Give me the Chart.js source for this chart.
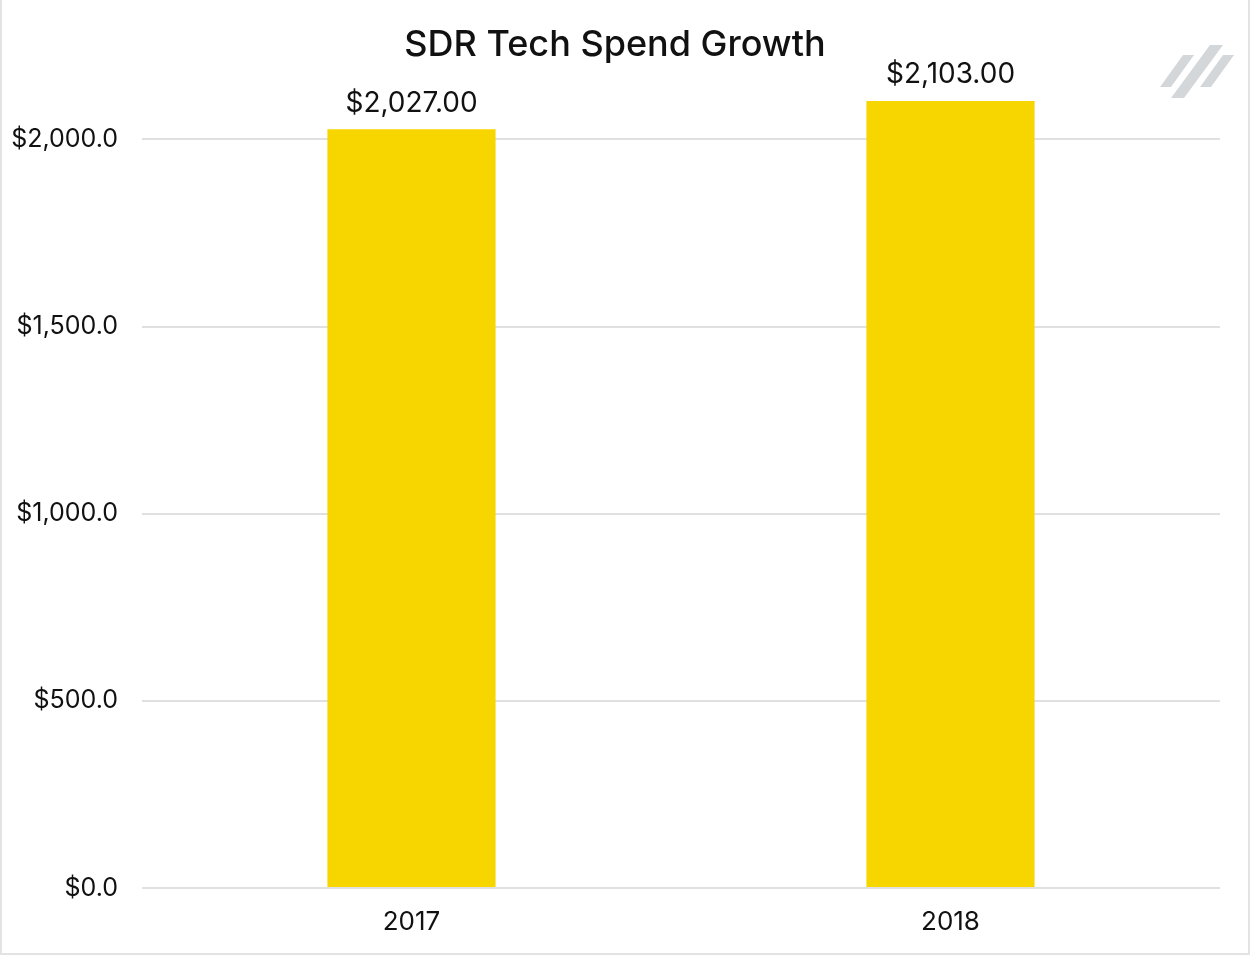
<!DOCTYPE html>
<html>
<head>
<meta charset="utf-8">
<script src="https://cdn.jsdelivr.net/npm/chart.js@4/dist/chart.umd.min.js"></script>
<style>
  html, body { margin: 0; padding: 0; background: #fff; }
  #wrap { width: 1250px; height: 955px; box-sizing: border-box; border: 2px solid #e3e3e3; border-top: none; }
  canvas { display: block; }
</style>
</head>
<body>
<div id="wrap"><canvas id="chart" width="1246" height="953"></canvas></div>
<script>
//-----------------------------------------------------------------------------
// Data
//-----------------------------------------------------------------------------

var years = ['2017', '2018'];
var spend = [2027, 2103];
var tickValues = [0, 500, 1000, 1500, 2000];

var FONT = 'Inter, "Noto Sans", sans-serif';

function money(v, digits) {
  return '$' + v.toLocaleString('en-US', {minimumFractionDigits: digits, maximumFractionDigits: digits});
}

// value labels above each bar
var valueLabels = {
  id: 'valueLabels',
  afterDatasetsDraw: function(chart) {
    var ctx = chart.ctx;
    var meta = chart.getDatasetMeta(0);
    ctx.save();
    ctx.font = '400 28px ' + FONT;
    ctx.fillStyle = '#111';
    ctx.textAlign = 'center';
    ctx.textBaseline = 'bottom';
    meta.data.forEach(function(bar, i) {
      ctx.fillText(money(spend[i], 2), bar.x, bar.y - 12);
    });
    ctx.restore();
  }
};

// little slash logo in the top right corner
var logo = {
  id: 'logo',
  afterDraw: function(chart) {
    var ctx = chart.ctx;
    ctx.save();
    ctx.fillStyle = '#d3d7da';
    // bottom x, bottom y, width, top x, top y
    var shapes = [[1158, 87, 11, 1181, 55], [1169, 98, 13, 1208, 45], [1198, 87, 11, 1221, 55]];
    shapes.forEach(function(s) {
      ctx.beginPath();
      ctx.moveTo(s[0], s[1]);
      ctx.lineTo(s[3], s[4]);
      ctx.lineTo(s[3] + s[2], s[4]);
      ctx.lineTo(s[0] + s[2], s[1]);
      ctx.closePath();
      ctx.fill();
    });
    ctx.restore();
  }
};

new Chart(document.getElementById('chart'), {
  type: 'bar',
  data: {
    labels: years,
    datasets: [{
      data: spend,
      backgroundColor: '#f7d600',
      barPercentage: 0.312,
      categoryPercentage: 1
    }]
  },
  options: {
    responsive: false,
    animation: false,
    layout: { padding: { top: 18, right: 28, bottom: 0, left: 8 } },
    plugins: {
      legend: { display: false },
      tooltip: { enabled: false },
      title: {
        display: true,
        text: 'SDR Tech Spend Growth',
        color: '#111',
        font: { family: FONT, size: 36, weight: '500', lineHeight: 1.1 },
        padding: { top: 7, bottom: 0 }
      }
    },
    scales: {
      x: {
        grid: { display: false, drawTicks: false },
        border: { display: false },
        ticks: { color: '#111', font: { family: FONT, size: 26 }, padding: 19 },
        afterFit: function(scale) { scale.height = 65; }
      },
      y: {
        min: 0,
        max: 2200,
        afterBuildTicks: function(scale) {
          scale.ticks = tickValues.map(function(v) { return {value: v}; });
        },
        grid: { color: '#e0e0e0', lineWidth: 2, drawTicks: false },
        border: { display: false },
        ticks: {
          color: '#111',
          font: { family: FONT, size: 25 },
          padding: 24,
          callback: function(v) { return money(v, 1); }
        },
        afterFit: function(scale) { scale.width = 132; }
      }
    }
  },
  plugins: [valueLabels, logo]
});
</script>
</body>
</html>
